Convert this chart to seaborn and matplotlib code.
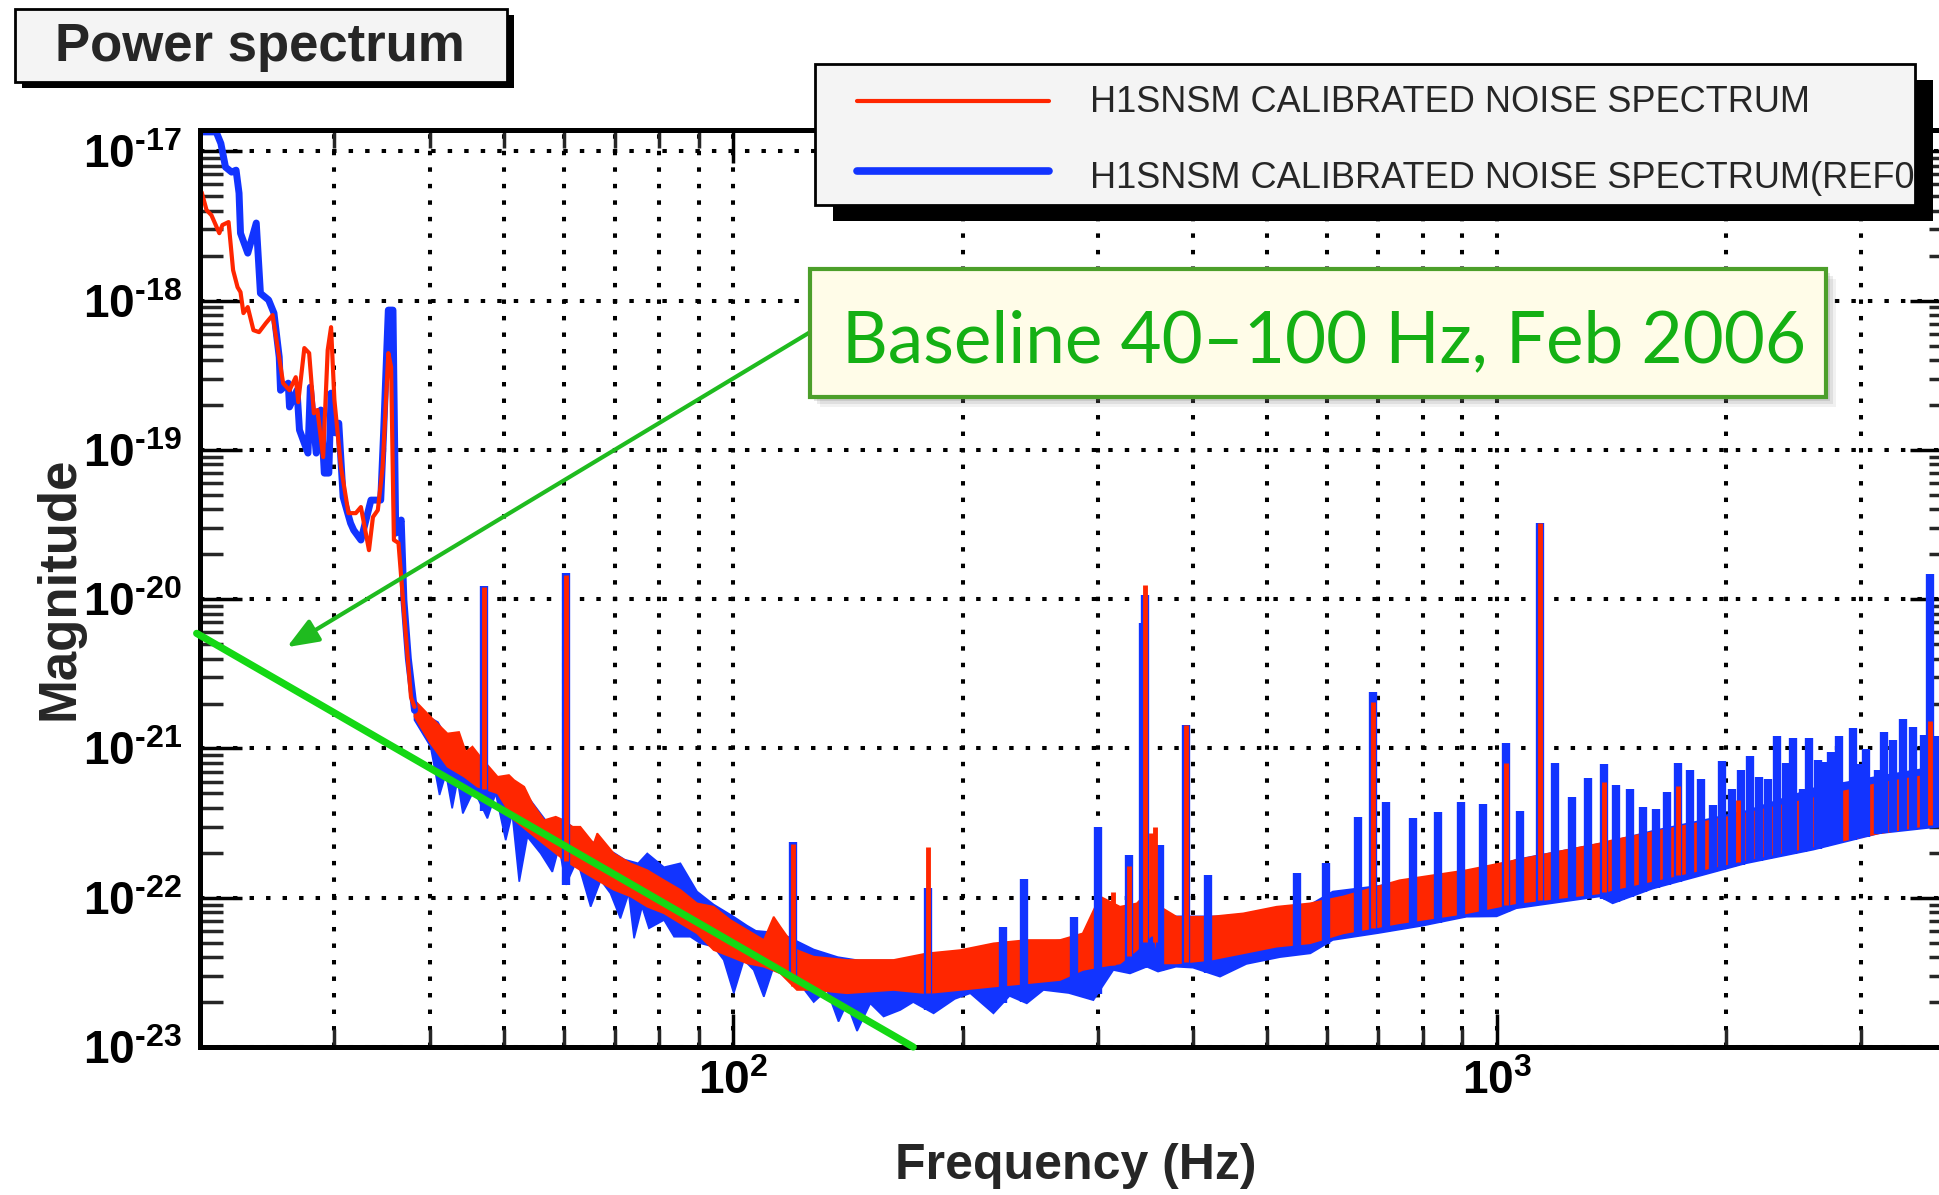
import numpy as np
import pandas as pd
import seaborn as sns
import matplotlib.pyplot as plt
from matplotlib.patches import Rectangle
from matplotlib.lines import Line2D
from matplotlib.ticker import FixedLocator, FuncFormatter, NullFormatter

sns.set_style("white")
plt.rcParams["font.family"] = ["Liberation Sans", "DejaVu Sans"]
plt.rcParams["mathtext.fontset"] = "custom"
plt.rcParams["mathtext.rm"] = "Liberation Sans:bold"
plt.rcParams["mathtext.it"] = "Liberation Sans:bold"
plt.rcParams["mathtext.bf"] = "Liberation Sans:bold"
plt.rcParams["mathtext.default"] = "rm"

RED = "#ff2600"
BLUE = "#1234ff"
GREEN = "#14d814"

# ---- data ----
# low-frequency part of each trace (Hz, magnitude)
red_lf_freq = [20.1, 20.4, 20.7, 21.2, 21.4, 21.8, 22.1, 22.4, 22.6, 22.8, 23.1, 23.5, 23.9,
               24.4, 24.9, 25.7, 26.2, 26.7, 26.9, 27.4, 27.8, 28.2, 28.5, 29.0, 29.4, 29.7,
               30.0, 30.6, 31.3, 32.0, 32.5, 33.3, 33.7, 34.2, 34.7, 35.3, 35.6, 35.9, 36.4,
               36.9, 37.3, 37.8, 38.2]
red_lf_mag = [5.33e-18, 4.04e-18, 3.74e-18, 2.83e-18, 3.21e-18, 3.36e-18, 1.60e-18, 1.23e-18,
              1.14e-18, 8.25e-19, 9.05e-19, 6.34e-19, 6.15e-19, 7.07e-19, 8.0e-19, 2.80e-19,
              2.51e-19, 3.07e-19, 2.09e-19, 4.81e-19, 4.45e-19, 1.76e-19, 1.85e-19, 8.95e-20,
              4.66e-19, 6.64e-19, 2.16e-19, 7.67e-20, 3.77e-20, 3.77e-20, 4.14e-20, 2.13e-20,
              3.55e-20, 3.95e-20, 7.67e-20, 4.45e-19, 3.59e-19, 2.49e-20, 2.38e-20, 9.86e-21,
              5.0e-21, 2.2e-21, 1.9e-21]
blue_lf_freq = [20.0, 21.0, 21.3, 21.6, 22.0, 22.3, 22.5, 22.6, 23.1, 23.7, 24.0, 24.6, 25.0,
                25.4, 25.5, 26.1, 26.2, 26.8, 27.0, 27.7, 27.9, 28.4, 28.8, 29.1, 29.5, 29.7,
                30.1, 30.4, 30.8, 31.5, 31.8, 32.5, 33.0, 33.5, 34.5, 34.8, 35.3, 35.8, 36.1,
                36.7, 37.0, 37.5, 38.2]
blue_lf_mag = [1.35e-17, 1.35e-17, 1.13e-17, 7.84e-18, 7.26e-18, 7.48e-18, 5.25e-18, 2.83e-18,
               2.08e-18, 3.31e-18, 1.12e-18, 1.01e-18, 8.25e-19, 4.18e-19, 2.51e-19, 2.80e-19,
               1.94e-19, 2.51e-19, 1.36e-19, 9.52e-20, 2.63e-19, 9.52e-20, 1.85e-19, 6.99e-20,
               6.99e-20, 2.40e-19, 1.30e-19, 1.51e-19, 4.83e-20, 3.23e-20, 2.90e-20, 2.49e-20,
               3.39e-20, 4.61e-20, 4.61e-20, 1.30e-19, 8.64e-19, 8.64e-19, 2.77e-20, 3.39e-20,
               9.86e-21, 4.0e-21, 1.8e-21]

# dense noise floor: lower and upper edge of the band (Hz, magnitude)
red_lo_freq = [38.2, 40.1, 42.2, 44.4, 46.2, 49.1, 51.6, 54.2, 57.0, 60.0, 63.0, 66.3, 69.7,
               73.3, 77.1, 81.1, 85.2, 89.6, 94.2, 99.1, 104.2, 109.6, 115.2, 121.1, 127.4,
               140.8, 162.1, 179.2, 198.2, 219.1, 242.3, 267.9, 286.8, 302.2, 321.0, 337.7,
               355.0, 362.2, 380.8, 421.0, 465.6, 514.8, 569.2, 629.5, 746.0, 912.6, 1061.0,
               1364.0, 1419.0, 2121.0, 3170.0, 3798.0, 4000.0]
red_lo_mag = [1.63e-21, 1.08e-21, 7.54e-22, 6.46e-22, 5.54e-22, 5.0e-22, 3.31e-22, 2.70e-22,
              2.20e-22, 1.79e-22, 1.53e-22, 1.31e-22, 1.13e-22, 1.02e-22, 8.71e-23, 7.86e-23,
              6.74e-23, 5.77e-23, 4.46e-23, 4.03e-23, 3.63e-23, 3.45e-23, 3.11e-23, 2.41e-23,
              2.41e-23, 2.29e-23, 2.41e-23, 2.29e-23, 2.41e-23, 2.54e-23, 2.67e-23, 2.81e-23,
              3.28e-23, 3.45e-23, 3.63e-23, 4.46e-23, 5.77e-23, 3.63e-23, 3.63e-23, 3.83e-23,
              4.24e-23, 4.70e-23, 4.95e-23, 5.77e-23, 6.75e-23, 7.87e-23, 9.2e-23, 1.07e-22,
              1.13e-22, 1.79e-22, 2.70e-22, 3.15e-22, 3.3e-22]
red_hi_freq = [38.2, 40.1, 42.2, 43.7, 44.6, 45.5, 46.6, 49.1, 50.8, 51.6, 53.2, 54.5, 56.5,
               58.5, 60.0, 61.5, 63.0, 65.6, 66.3, 69.7, 73.3, 77.1, 81.1, 85.2, 89.6, 94.2,
               99.1, 104.2, 109.6, 112.9, 115.2, 121.1, 127.4, 140.8, 162.1, 179.2, 198.2,
               219.1, 242.3, 267.9, 286.8, 302.2, 321.0, 337.7, 355.0, 362.2, 380.8, 421.0,
               465.6, 514.8, 569.2, 629.5, 746.0, 912.6, 1061.0, 1364.0, 1419.0, 2121.0,
               3170.0, 3798.0, 4000.0]
red_hi_mag = [2.11e-21, 1.63e-21, 1.26e-21, 1.29e-21, 9.5e-22, 1.03e-21, 8.81e-22, 6.46e-22,
              6.64e-22, 6.14e-22, 5.54e-22, 4.29e-22, 3.31e-22, 3.49e-22, 3.3e-22, 2.99e-22,
              2.99e-22, 2.31e-22, 2.70e-22, 1.98e-22, 1.70e-22, 1.53e-22, 1.31e-22, 1.13e-22,
              9.17e-23, 8.71e-23, 7.09e-23, 6.08e-23, 5.21e-23, 7.46e-23, 6.40e-23, 4.46e-23,
              4.03e-23, 3.83e-23, 3.83e-23, 4.24e-23, 4.46e-23, 4.95e-23, 5.21e-23, 5.21e-23,
              5.77e-23, 1.02e-22, 8.71e-23, 9.17e-23, 1.2e-22, 8.71e-23, 7.46e-23, 7.46e-23,
              7.86e-23, 8.71e-23, 9.17e-23, 1.02e-22, 1.31e-22, 1.53e-22, 1.79e-22, 2.31e-22,
              2.43e-22, 3.67e-22, 5.83e-22, 6.81e-22, 7.0e-22]

blue_lo_freq = [38.2, 40.1, 41.2, 42.0, 42.8, 43.5, 44.2, 45.7, 47.6, 48.8, 50.3, 51.3, 52.4,
                53.7, 55.9, 57.9, 59.1, 60.3, 62.4, 65.0, 67.0, 69.0, 71.1, 72.9, 74.1, 75.9,
                77.5, 81.1, 83.6, 87.8, 90.5, 94.2, 97.1, 100.1, 103.2, 106.3, 109.6, 112.9,
                121.1, 127.4, 132.6, 137.3, 140.8, 145.2, 151.1, 157.3, 165.4, 172.0, 182.9,
                195.0, 204.3, 219.1, 230.0, 242.3, 254.8, 275.0, 296.2, 314.6, 330.8, 348.0,
                360.0, 380.0, 400.0, 434.0, 470.0, 520.0, 570.0, 610.0, 700.0, 800.0, 913.0,
                1000.0, 1061.0, 1364.0, 1419.0, 1600.0, 2121.0, 2600.0, 3170.0, 3798.0, 4000.0]
blue_lo_mag = [1.55e-21, 1.03e-21, 4.88e-22, 6.8e-22, 3.97e-22, 6.14e-22, 3.67e-22, 5.26e-22,
               3.4e-22, 5.0e-22, 2.43e-22, 3.67e-22, 1.28e-22, 2.56e-22, 1.98e-22, 1.49e-22,
               2.20e-22, 1.22e-22, 1.79e-22, 8.71e-23, 1.31e-22, 1.07e-22, 7.27e-23, 1.07e-22,
               5.35e-23, 8.71e-23, 6.24e-23, 7.09e-23, 5.48e-23, 5.48e-23, 4.95e-23, 4.70e-23,
               3.83e-23, 2.29e-23, 3.83e-23, 3.28e-23, 2.17e-23, 3.45e-23, 2.81e-23, 2.0e-23,
               2.41e-23, 1.48e-23, 1.96e-23, 1.28e-23, 1.96e-23, 1.60e-23, 1.77e-23, 2.0e-23,
               1.68e-23, 2.1e-23, 2.29e-23, 1.68e-23, 2.2e-23, 1.96e-23, 2.41e-23, 2.3e-23,
               2.06e-23, 3.28e-23, 3.11e-23, 3.45e-23, 3.2e-23, 3.45e-23, 3.4e-23, 2.96e-23,
               3.6e-23, 4.0e-23, 4.24e-23, 5.21e-23, 5.8e-23, 6.5e-23, 7.46e-23, 7.5e-23,
               8.5e-23, 1.02e-22, 9.17e-23, 1.15e-22, 1.70e-22, 2.1e-22, 2.70e-22, 2.99e-22,
               3.1e-22]
blue_hi_freq = [38.2, 40.1, 41.0, 42.2, 44.4, 46.6, 49.1, 51.6, 52.5, 54.2, 57.0, 58.0, 60.0,
                63.0, 65.0, 69.7, 72.0, 75.0, 77.1, 81.1, 85.2, 89.6, 94.2, 99.9, 104.2,
                107.0, 115.2, 127.4, 137.0, 146.0, 155.7, 165.0, 181.0, 200.0, 230.0, 270.0,
                297.0, 321.0, 345.0, 360.0, 380.0, 400.0, 434.0, 470.0, 520.0, 570.0, 610.0,
                700.0, 800.0, 913.0, 1000.0, 1061.0, 1364.0, 1419.0, 1600.0, 2121.0, 2600.0,
                3170.0, 3798.0, 4000.0]
blue_hi_mag = [2.0e-21, 1.6e-21, 1.5e-21, 1.15e-21, 9.5e-22, 8.0e-22, 6.0e-22, 5.5e-22,
               4.5e-22, 4.5e-22, 3.2e-22, 3.3e-22, 3.2e-22, 2.8e-22, 2.4e-22, 2.0e-22, 1.8e-22,
               1.7e-22, 1.98e-22, 1.6e-22, 1.7e-22, 1.1e-22, 9.0e-23, 7.5e-23, 6.5e-23,
               6.0e-23, 5.8e-23, 4.5e-23, 4.0e-23, 3.8e-23, 3.8e-23, 3.8e-23, 4.0e-23, 4.3e-23,
               4.8e-23, 5.2e-23, 6.0e-23, 8.0e-23, 9.0e-23, 8.0e-23, 7.5e-23, 7.5e-23, 7.5e-23,
               7.8e-23, 8.5e-23, 9.0e-23, 1.1e-22, 1.2e-22, 1.35e-22, 1.5e-22, 1.6e-22, 1.8e-22,
               2.3e-22, 2.4e-22, 2.8e-22, 3.8e-22, 5.4e-22, 6.5e-22, 7.6e-22, 7.8e-22]

# narrow lines sticking out of the floor (Hz, peak magnitude)
red_peak_freq = [47.1, 60.3, 119.8, 180.0, 314.6, 330.0, 346.0, 352.0, 357.0, 392.0, 689.0,
                 1030.0, 1139.0, 1381.0, 1730.0, 2070.0, 3700.0]
red_peak_mag = [1.2e-20, 1.45e-20, 2.3e-22, 2.2e-22, 1.1e-22, 1.62e-22, 1.24e-20, 2.7e-22,
                3.0e-22, 1.43e-21, 2.06e-21, 7.94e-22, 3.22e-20, 5.93e-22, 5.6e-22, 4.5e-22,
                1.53e-21]
blue_peak_freq = [47.1, 60.3, 119.8, 180.0, 225.8, 240.0, 279.0, 300.0, 330.0, 344.0, 346.0,
                  362.0, 392.0, 419.0, 546.8, 598.0, 658.0, 689.0, 717.0, 777.0, 838.0, 899.0,
                  960.0, 1030.0, 1074.0, 1139.0, 1191.0, 1257.0, 1317.0, 1381.0, 1435.0,
                  1493.0, 1554.0, 1615.0, 1673.0, 1730.0, 1794.0, 1853.0, 1919.0, 1972.0,
                  2032.0, 2091.0, 2148.0, 2209.0, 2265.0, 2330.0, 2394.0, 2447.0, 2517.0,
                  2569.0, 2634.0, 2688.0, 2742.0, 2812.0, 2926.0, 2986.0, 3046.0, 3156.0,
                  3220.0, 3302.0, 3403.0, 3508.0, 3633.0, 3696.0, 3782.0]
blue_peak_mag = [1.22e-20, 1.5e-20, 2.37e-22, 1.16e-22, 6.4e-23, 1.33e-22, 7.46e-23, 2.99e-22,
                 1.93e-22, 6.9e-21, 1.06e-20, 2.25e-22, 1.43e-21, 1.42e-22, 1.46e-22, 1.71e-22,
                 3.45e-22, 2.4e-21, 4.4e-22, 3.4e-22, 3.73e-22, 4.4e-22, 4.25e-22, 1.08e-21,
                 3.81e-22, 3.22e-20, 7.95e-22, 4.7e-22, 6.3e-22, 7.82e-22, 5.69e-22, 5.32e-22,
                 4.07e-22, 3.91e-22, 5.13e-22, 7.94e-22, 7.17e-22, 6.21e-22, 4.18e-22, 8.28e-22,
                 5.32e-22, 7.17e-22, 8.89e-22, 6.46e-22, 6.21e-22, 1.21e-21, 7.94e-22, 1.17e-21,
                 5.32e-22, 1.17e-21, 8.36e-22, 8.15e-22, 9.46e-22, 1.21e-21, 1.38e-21, 7.86e-22,
                 9.86e-22, 7.17e-22, 1.29e-21, 1.14e-21, 1.57e-21, 1.40e-21, 1.24e-21, 1.47e-20,
                 1.21e-21]

# hand-drawn 40-100 Hz baseline
baseline_freq = [19.8, 172.0]
baseline_mag = [5.9e-21, 1.0e-23]

legend_labels = ["H1SNSM CALIBRATED NOISE SPECTRUM", "H1SNSM CALIBRATED NOISE SPECTRUM(REF0)"]

W, H = 1940, 1195


def fx(x):
    return x / W


def fy(y):
    return 1 - y / H


def base_of(freqs, band_f, band_lo):
    return 10 ** np.interp(np.log10(freqs), np.log10(band_f), np.log10(band_lo))


fig = plt.figure(figsize=(W / 100, H / 100), dpi=100)
ax = fig.add_axes([fx(200), 148 / H, 1752 / W, 917 / H])
ax.set_xscale("log")
ax.set_yscale("log")

# reference (blue) first, current (red) on top
series = [
    (blue_lo_freq, blue_lo_mag, blue_hi_freq, blue_hi_mag, blue_lf_freq, blue_lf_mag,
     blue_peak_freq, blue_peak_mag, BLUE, 5.0, 6.0),
    (red_lo_freq, red_lo_mag, red_hi_freq, red_hi_mag, red_lf_freq, red_lf_mag,
     red_peak_freq, red_peak_mag, RED, 3.0, 3.5),
]
for lo_f, lo_m, hi_f, hi_m, lf_f, lf_m, pk_f, pk_m, col, lw, pk_lw in series:
    ax.fill(list(lo_f) + list(hi_f[::-1]), list(lo_m) + list(hi_m[::-1]),
            color=col, lw=1.2, ec=col, zorder=2)
    df_lf = pd.DataFrame({"freq": lf_f, "mag": lf_m})
    sns.lineplot(data=df_lf, x="freq", y="mag", ax=ax, color=col, lw=lw,
                 estimator=None, sort=False, zorder=2.1)
    ax.vlines(pk_f, base_of(pk_f, lo_f, lo_m), pk_m, colors=col, lw=pk_lw, zorder=2.1)

df_base = pd.DataFrame({"freq": baseline_freq, "mag": baseline_mag})
sns.lineplot(data=df_base, x="freq", y="mag", ax=ax, color=GREEN, lw=5.2,
             estimator=None, sort=False, zorder=3, clip_on=False)

ax.set_xlim(20, 3950)
ax.set_ylim(1e-23, 1.39e-17)

ax.xaxis.set_major_locator(FixedLocator([100, 1000]))
ax.xaxis.set_minor_locator(FixedLocator([30, 40, 50, 60, 70, 80, 90, 200, 300, 400, 500,
                                         600, 700, 800, 900, 2000, 3000]))
ax.yaxis.set_major_locator(FixedLocator([10.0 ** e for e in range(-23, -16)]))
ax.yaxis.set_minor_locator(FixedLocator([m * 10.0 ** e for e in range(-23, -17)
                                         for m in range(2, 10)]))


def sci(v, pos):
    e = int(round(np.log10(v)))
    if e < 0:
        return r"$10^{\text{-}%d}$" % (-e)
    return r"$10^{%d}$" % e


ax.xaxis.set_major_formatter(FuncFormatter(sci))
ax.yaxis.set_major_formatter(FuncFormatter(sci))
ax.xaxis.set_minor_formatter(NullFormatter())
ax.yaxis.set_minor_formatter(NullFormatter())

ax.tick_params(axis="y", which="major", direction="in", length=30, width=2.5,
               left=True, right=True, pad=13, labelsize=33, colors="black")
ax.tick_params(axis="y", which="minor", direction="in", length=16.5, width=2.5,
               left=True, right=True)
ax.tick_params(axis="x", which="major", direction="in", length=24, width=2.5,
               bottom=True, top=True, pad=9.5, labelsize=33, colors="black")
ax.tick_params(axis="x", which="minor", direction="in", length=13, width=2.5,
               bottom=True, top=True)

dots = (0, (1.1, 3.0))
ax.grid(True, which="major", axis="both", color="black", lw=2.9, ls=dots)
ax.grid(True, which="minor", axis="x", color="black", lw=2.9, ls=dots)
ax.set_axisbelow(True)
for s in ax.spines.values():
    s.set_linewidth(3.6)
    s.set_color("black")

ax.set_xlabel("Frequency (Hz)", fontsize=36, fontweight="bold")
ax.xaxis.set_label_coords(0.5, -0.1047)
ax.set_ylabel("Magnitude", fontsize=38, fontweight="bold")
ax.yaxis.set_label_coords(-0.0662, 0.5)

# pointer from the note to the baseline
ax.annotate("", xy=(26.0, 4.77e-21), xycoords="data",
            xytext=(fx(812), fy(331)), textcoords="figure fraction",
            arrowprops=dict(arrowstyle="-|>,head_length=1.9,head_width=0.75",
                            color="#1fbb1f", lw=3, shrinkA=0, shrinkB=0, mutation_scale=10),
            annotation_clip=False, zorder=3)


def box(x0, y0, x1, y1, **kw):
    r = Rectangle((fx(x0), fy(y1)), fx(x1) - fx(x0), fy(y0) - fy(y1),
                  transform=fig.transFigure, **kw)
    fig.add_artist(r)
    return r


# title box
box(22, 15, 514, 88, fc="black", ec="none")
box(15, 9, 507, 82, fc="#f4f4f4", ec="black", lw=2)
fig.text(fx(260), fy(61), "Power spectrum", ha="center", va="baseline",
         fontsize=38, fontweight="bold")

# legend box
box(833, 80, 1933, 221, fc="black", ec="none")
leg = box(815, 64, 1915, 205, fc="#f4f4f4", ec="black", lw=2)
fig.add_artist(Line2D([fx(857), fx(1049)], [fy(101), fy(101)], color=RED, lw=3,
                      transform=fig.transFigure))
fig.add_artist(Line2D([fx(857), fx(1049)], [fy(170.7), fy(170.7)], color=BLUE, lw=5.5,
                      transform=fig.transFigure))
for lab, yb in zip(legend_labels, [112, 188]):
    t = fig.text(fx(1090), fy(yb), lab, ha="left", va="baseline", fontsize=26)
    t.set_clip_path(leg)

# note box with soft shadow
for k, a in [(10, 0.10), (7, 0.15), (4, 0.2)]:
    box(810 + k, 269 + k, 1826 + k, 397 + k, fc="#7a7a7a", ec="none", alpha=a)
box(810, 269, 1826, 397, fc="#fffce8", ec="#4c9f2a", lw=3)
note = fig.text(fx(1324), fy(362), "Baseline 40\u2013100 Hz, Feb 2006", ha="center",
                va="baseline", fontsize=52, family=["Lato", "DejaVu Sans"], color="#14b014")
fig.canvas.draw()
wpx = note.get_window_extent().width
note.set_fontsize(52 * 965 / wpx)

fig.savefig("out.png", dpi=100)
